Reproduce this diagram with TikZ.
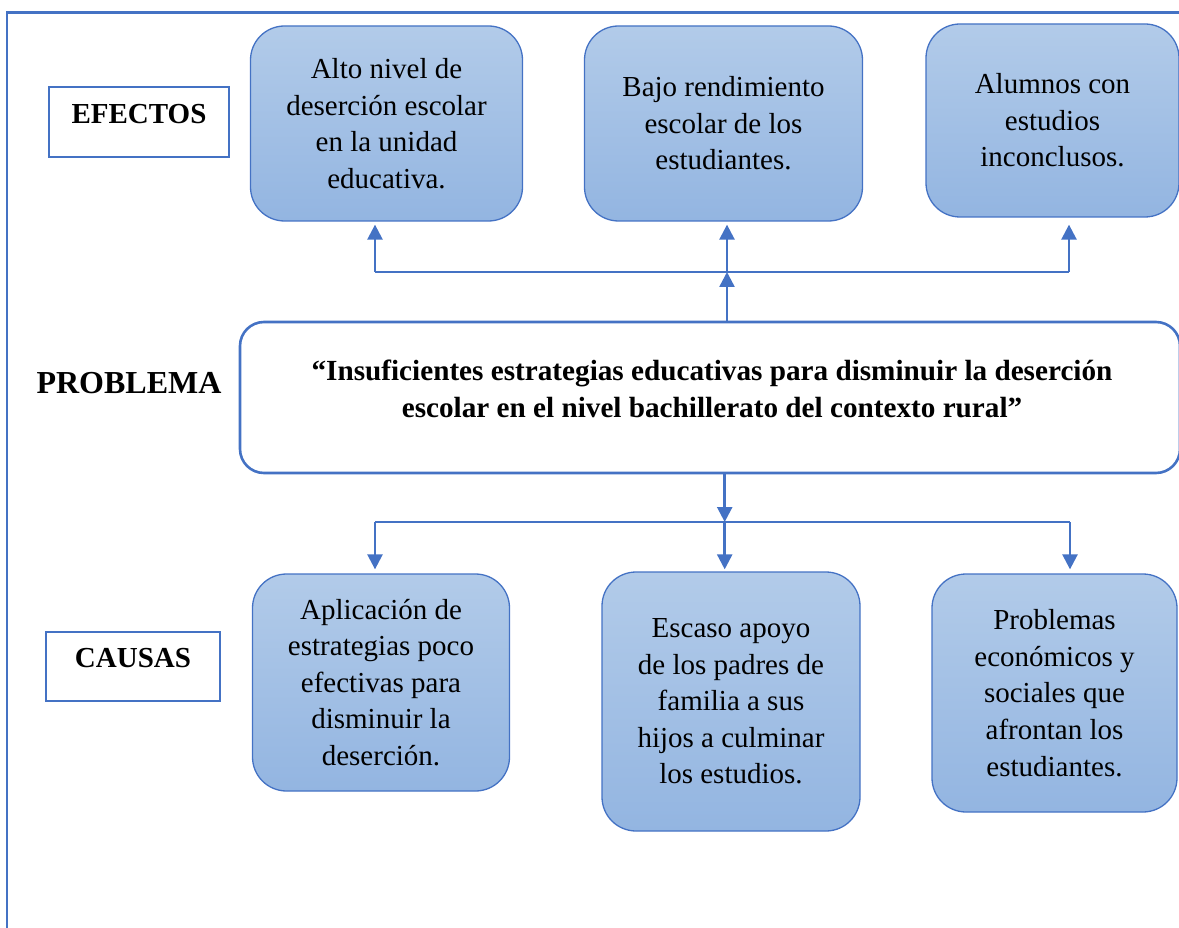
\documentclass[tikz,border=0pt]{standalone}
\usepackage{fontspec}
\setmainfont{Liberation Serif}
\usetikzlibrary{arrows.meta}
\definecolor{bord}{HTML}{4472C4}
\definecolor{ftop}{HTML}{B2CBE9}
\definecolor{fbot}{HTML}{93B5E1}
\begin{document}
\begin{tikzpicture}[x=1pt,y=-1pt,
  bluebox/.style={draw=bord, line width=1.3pt, rounded corners=34pt,
    top color=ftop, bottom color=fbot, align=center, inner sep=0pt,
    font=\fontsize{29}{36.6}\selectfont},
  labbox/.style={draw=bord, line width=1.8pt, fill=white, inner sep=0pt},
  labtext/.style={font=\fontsize{29}{34}\selectfont\bfseries, inner sep=0pt},
  conn/.style={draw=bord, line width=2.5pt},
  thinconn/.style={draw=bord, line width=1.6pt},
  arr/.style={conn, -{Triangle[width=15pt,length=15pt]}}
]
\useasboundingbox (0,0) rectangle (1179,928);
% frame
\draw[bord, line width=2.2pt] (7,930) -- (7,12.5) -- (1181,12.5);

% effects
\node[bluebox, minimum width=272pt, minimum height=195pt] (e1) at (386.5,123.5)
  {Alto nivel de\\deserción escolar\\en la unidad\\educativa.};
\node[bluebox, minimum width=278pt, minimum height=195pt] (e2) at (723.5,123.5)
  {Bajo rendimiento\\escolar de los\\estudiantes.};
\node[bluebox, minimum width=253pt, minimum height=193pt] (e3) at (1052.5,120.5)
  {Alumnos con\\estudios\\inconclusos.};

% labels
\node[labbox, minimum width=180pt, minimum height=70pt] (efx) at (139,122) {};
\node[labtext] (efxt) at (139,114) {EFECTOS};
\node[labbox, minimum width=174pt, minimum height=69pt] (cau) at (133,666.5) {};
\node[labtext] (caut) at (133,658) {CAUSAS};
\node[font=\fontsize{32}{36}\selectfont\bfseries, inner sep=0pt] (probl) at (129,383.5) {PROBLEMA};

% problem
\node[draw=bord, line width=2.6pt, rounded corners=24pt, fill=white,
  minimum width=940pt, minimum height=151pt, inner sep=0pt] (prob) at (710,397.5) {};
\node[align=center, inner sep=0pt, font=\fontsize{29.2}{37}\selectfont\bfseries] (ptext) at (712,389)
  {“Insuficientes estrategias educativas para disminuir la deserción\\escolar en el nivel bachillerato del contexto rural”};

% causes
\node[bluebox, minimum width=257pt, minimum height=217pt] (c1) at (381,682.5)
  {Aplicación de\\estrategias poco\\efectivas para\\disminuir la\\deserción.};
\node[bluebox, minimum width=258pt, minimum height=259pt] (c2) at (731,701.5)
  {Escaso apoyo\\de los padres de\\familia a sus\\hijos a culminar\\los estudios.};
\node[bluebox, minimum width=245pt, minimum height=238pt] (c3) at (1054.5,693)
  {Problemas\\económicos y\\sociales que\\afrontan los\\estudiantes.};

% upper connectors
\coordinate (jt) at (727,272);
\coordinate (jl) at (375,272);
\coordinate (jr) at (1069,272);
\draw[arr] (prob.north -| jt) -- (jt);
\draw[thinconn] (jl) -- (jr);
\draw[arr, shorten >=3pt] (jt) -- (jt |- e2.south);
\draw[arr, shorten >=3pt] (jl) -- (jl |- e1.south);
\draw[arr, shorten >=7pt] (jr) -- (jr |- e3.south);

% lower connectors
\coordinate (kt) at (724.7,522);
\coordinate (kl) at (375,522);
\coordinate (kr) at (1070,522);
\draw[arr] (prob.south -| kt) -- (kt);
\draw[thinconn] (kl) -- (kr);
\draw[arr, shorten >=2pt] (kt) -- (kt |- c2.north);
\draw[arr, shorten >=4pt] (kl) -- (kl |- c1.north);
\draw[arr, shorten >=4pt] (kr) -- (kr |- c3.north);
\end{tikzpicture}
\end{document}
